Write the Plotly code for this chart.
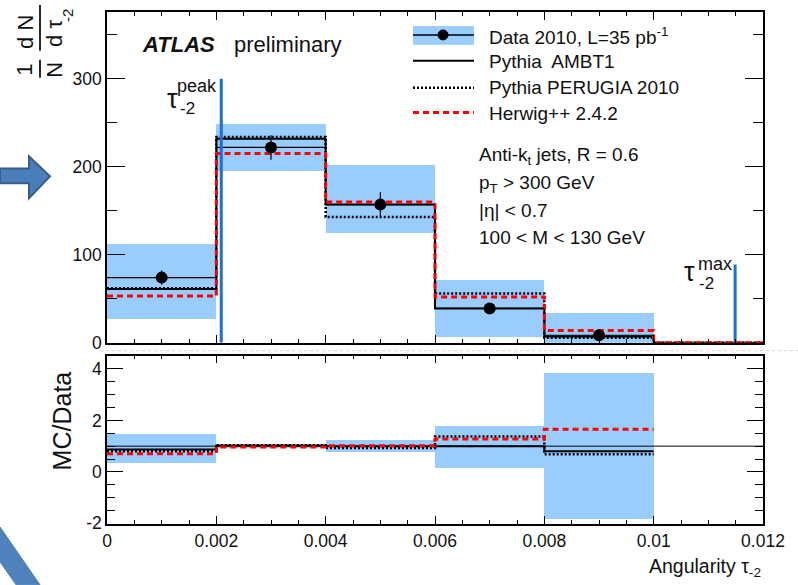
import plotly.graph_objects as go

# ---- binning and measured values -------------------------------------------
bin_edges = [0.0, 0.002, 0.004, 0.006, 0.008, 0.010, 0.012]
data_vals = [74.0, 222.0, 157.0, 39.0, 8.5]            # Data 2010, first five bins
data_stat = [8.0, 14.0, 14.0, 4.0, 3.0]
syst_lo = [27.0, 195.0, 124.5, 6.3, 0.0]
syst_hi = [112.0, 249.0, 202.0, 71.7, 33.9]

pythia_ambt1 = [61.0, 232.0, 157.0, 39.0, 7.0, 0.0]
pythia_perugia = [62.0, 234.0, 143.0, 56.0, 5.5, 0.0]
herwig = [53.0, 215.0, 160.0, 52.0, 14.0, 0.0]

# MC/Data ratio panel
ratio_lo = [0.36, 0.95, 0.77, 0.17, -1.83]
ratio_hi = [1.48, 1.07, 1.25, 1.81, 3.87]
ratio_ambt1 = [0.87, 1.03, 1.00, 1.00, 0.80]
ratio_perugia = [0.80, 1.04, 0.93, 1.38, 0.69]
ratio_herwig = [0.71, 0.97, 1.02, 1.28, 1.66]

tau_peak = 0.00209
tau_peak_height = 300.0
tau_max = 0.01149
tau_max_height = 89.0

x_ticks = [0.0, 0.002, 0.004, 0.006, 0.008, 0.010, 0.012]
x_tick_text = ["0", "0.002", "0.004", "0.006", "0.008", "0.01", "0.012"]
y_top_ticks = [0, 100, 200, 300]
y_ratio_ticks = [-2, 0, 2, 4]
y_ratio_text = ["-2", "0", "2", "4"]

# ---- styling ---------------------------------------------------------------
FONT = "Liberation Sans, Arial, Helvetica, sans-serif"
BAND = "rgb(153,204,255)"
BLUE = "#1a70d4"
W, H = 798, 585
ML, MR, MT, MB = 107, 35, 10, 61
PW, PH = W - ML - MR, H - MT - MB


def px(x):
    return (x - ML) / PW


def py(y):
    return (H - MB - y) / PH


centers = [(a + b) / 2 for a, b in zip(bin_edges[:-1], bin_edges[1:])]
widths = [b - a for a, b in zip(bin_edges[:-1], bin_edges[1:])]


def step(vals, n=None):
    n = len(vals) if n is None else n
    xs = bin_edges[: n + 1]
    ys = list(vals[:n]) + [vals[n - 1]]
    return xs, ys


fig = go.Figure()

# --- top panel ---
fig.add_trace(go.Bar(
    x=centers[:5], y=[h - l for l, h in zip(syst_lo, syst_hi)], base=syst_lo,
    width=widths[:5], marker=dict(color=BAND, line=dict(width=0)),
    xaxis="x", yaxis="y", showlegend=False, hoverinfo="skip"))

for vals, col, dash, lw in [
    (pythia_perugia, "black", "2px,2px", 2.5),
    (pythia_ambt1, "black", "solid", 2),
    (herwig, "#ff0000", "6px,4px", 3),
]:
    xs, ys = step(vals)
    fig.add_trace(go.Scatter(x=xs, y=ys, mode="lines", line_shape="hv",
                             line=dict(color=col, dash=dash, width=lw),
                             xaxis="x", yaxis="y", showlegend=False))

fig.add_trace(go.Scatter(
    x=centers[:5], y=data_vals, mode="markers",
    marker=dict(color="black", size=12),
    error_x=dict(type="data", array=[w / 2 for w in widths[:5]], color="black",
                 thickness=1.2, width=0),
    error_y=dict(type="data", array=data_stat, color="black", thickness=1.2, width=0),
    xaxis="x", yaxis="y", showlegend=False))

for xv, hv in [(tau_peak, tau_peak_height), (tau_max, tau_max_height)]:
    fig.add_trace(go.Scatter(x=[xv, xv], y=[0, hv], mode="lines",
                             line=dict(color=BLUE, width=3),
                             xaxis="x", yaxis="y", showlegend=False))

# --- ratio panel ---
fig.add_trace(go.Bar(
    x=centers[:5], y=[h - l for l, h in zip(ratio_lo, ratio_hi)], base=ratio_lo,
    width=widths[:5], marker=dict(color=BAND, line=dict(width=0)),
    xaxis="x2", yaxis="y2", showlegend=False, hoverinfo="skip"))

fig.add_trace(go.Scatter(x=[bin_edges[0], bin_edges[-1]], y=[1, 1], mode="lines",
                         line=dict(color="black", width=1),
                         xaxis="x2", yaxis="y2", showlegend=False))

for vals, col, dash, lw in [
    (ratio_perugia, "black", "2px,2px", 2.5),
    (ratio_ambt1, "black", "solid", 2),
    (ratio_herwig, "#ff0000", "6px,4px", 3),
]:
    xs, ys = step(vals)
    fig.add_trace(go.Scatter(x=xs, y=ys, mode="lines", line_shape="hv",
                             line=dict(color=col, dash=dash, width=lw),
                             xaxis="x2", yaxis="y2", showlegend=False))

# --- axes ---
top_lo = (H - MB - 342) / PH
bot_hi = (H - MB - 355) / PH
axis_common = dict(showline=True, linecolor="black", linewidth=1.5, mirror="ticks",
                   ticks="inside", tickcolor="black", showgrid=False, zeroline=False,
                   tickfont=dict(family=FONT, size=17.5, color="#111"))

fig.update_layout(
    width=W, height=H,
    margin=dict(l=ML, r=MR, t=MT, b=MB),
    paper_bgcolor="white", plot_bgcolor="white",
    barmode="overlay", bargap=0,
    xaxis=dict(domain=[0, 1], range=[0, 0.012], anchor="y", tickvals=x_ticks,
               showticklabels=False, ticklen=8, tickwidth=1.2,
               minor=dict(ticks="inside", dtick=0.0005, ticklen=4, tickcolor="black"),
               **axis_common),
    yaxis=dict(domain=[top_lo, 1], range=[0, 376], anchor="x", tickvals=y_top_ticks,
               ticklen=18, tickwidth=1.2,
               minor=dict(ticks="inside", dtick=50, ticklen=10, tickcolor="black"),
               **axis_common),
    xaxis2=dict(domain=[0, 1], range=[0, 0.012], anchor="y2", tickvals=x_ticks,
                ticktext=x_tick_text, ticklen=8, tickwidth=1.2,
                minor=dict(ticks="inside", dtick=0.0005, ticklen=4, tickcolor="black"),
                **axis_common),
    yaxis2=dict(domain=[0, bot_hi], range=[-2.025, 4.518], anchor="x2",
                tickvals=y_ratio_ticks, ticktext=y_ratio_text, ticklen=16, tickwidth=1.2,
                minor=dict(ticks="inside", dtick=0.5, ticklen=8, tickcolor="black"),
                **axis_common),
)

ann = []
shapes = []


def text(x, y, s, size, xanchor="left", angle=0, color="#111"):
    ann.append(dict(x=px(x), y=py(y), xref="paper", yref="paper", text=s,
                    showarrow=False, xanchor=xanchor, yanchor="middle",
                    textangle=angle, font=dict(family=FONT, size=size, color=color)))


# ATLAS label
text(140, 43, "<b><i>ATLAS</i></b>", 22)
text(232, 43, "preliminary", 22)

# legend
shapes.append(dict(type="rect", xref="paper", yref="paper",
                   x0=px(413), x1=px(474), y0=py(24), y1=py(43),
                   fillcolor=BAND, line=dict(width=0)))
shapes.append(dict(type="line", xref="paper", yref="paper",
                   x0=px(413), x1=px(474), y0=py(33), y1=py(33),
                   line=dict(color="black", width=1.5)))
shapes.append(dict(type="circle", xref="paper", yref="paper",
                   x0=px(438), x1=px(448), y0=py(28), y1=py(38),
                   fillcolor="black", line=dict(color="black", width=1)))
for yy, col, dash, lw in [(59, "black", "solid", 2), (86, "black", "2px,2px", 2.5),
                          (111, "#ff0000", "6px,4px", 3)]:
    shapes.append(dict(type="line", xref="paper", yref="paper",
                       x0=px(413), x1=px(474), y0=py(yy), y1=py(yy),
                       line=dict(color=col, width=lw, dash=dash)))
text(487, 34, "Data 2010, L=35 pb<sup>-1</sup>", 19)
text(487, 60, "Pythia  AMBT1", 19)
text(487, 86, "Pythia PERUGIA 2010", 19)
text(487, 112, "Herwig++ 2.4.2", 19)

# selection text
text(477, 155, "Anti-k<sub>t</sub> jets, R = 0.6", 19)
text(477, 183, "p<sub>T</sub> &gt; 300 GeV", 19)
text(477, 209, "|η| &lt; 0.7", 19)
text(477, 236, "100 &lt; M &lt; 130 GeV", 19)

# tau markers
text(172, 97, "τ", 27, xanchor="center")
text(175, 84, "peak", 18)
text(178, 107, "-2", 17)
text(689, 271, "τ", 27, xanchor="center")
text(696, 263, "max", 18)
text(697, 283, "-2", 17)

# axis titles
text(763, 568, "Angularity τ<sub>-2</sub>", 19.5, xanchor="right")
text(62, 421, "MC/Data", 25, xanchor="center", angle=-90)
text(25, 68, "1", 22, xanchor="center", angle=-90)
text(55, 68, "N", 22, xanchor="center", angle=-90)
text(26, 30, "d N", 22, xanchor="center", angle=-90)
text(55, 32, "d τ", 22, xanchor="center", angle=-90)
text(68, 14, "-2", 15, xanchor="center", angle=-90)
for y0, y1 in [(3, 49), (58, 76)]:
    shapes.append(dict(type="line", xref="paper", yref="paper",
                       x0=px(40), x1=px(40), y0=py(y0), y1=py(y1),
                       line=dict(color="#111", width=1.8)))

# faint separator between the panels
shapes.append(dict(type="line", xref="paper", yref="paper",
                   x0=px(100), x1=px(798), y0=py(350), y1=py(350),
                   line=dict(color="#d8d8d8", width=1, dash="dot")))

# slide decorations
arrow = [(0, 167), (29, 167), (29, 155), (50, 175), (29, 197), (29, 182), (0, 182)]
path = "M " + " L ".join(f"{px(a):.5f},{py(b):.5f}" for a, b in arrow) + " Z"
shapes.append(dict(type="path", xref="paper", yref="paper", path=path,
                   fillcolor="#4a7ebb", line=dict(color="#385d8a", width=2)))
stroke = [(0, 527), (40, 585), (16, 585), (0, 562)]
path = "M " + " L ".join(f"{px(a):.5f},{py(b):.5f}" for a, b in stroke) + " Z"
shapes.append(dict(type="path", xref="paper", yref="paper", path=path,
                   fillcolor="#4f81bd", line=dict(color="#4f81bd", width=1)))

fig.update_layout(annotations=ann, shapes=shapes)
fig.write_html("out.html")
